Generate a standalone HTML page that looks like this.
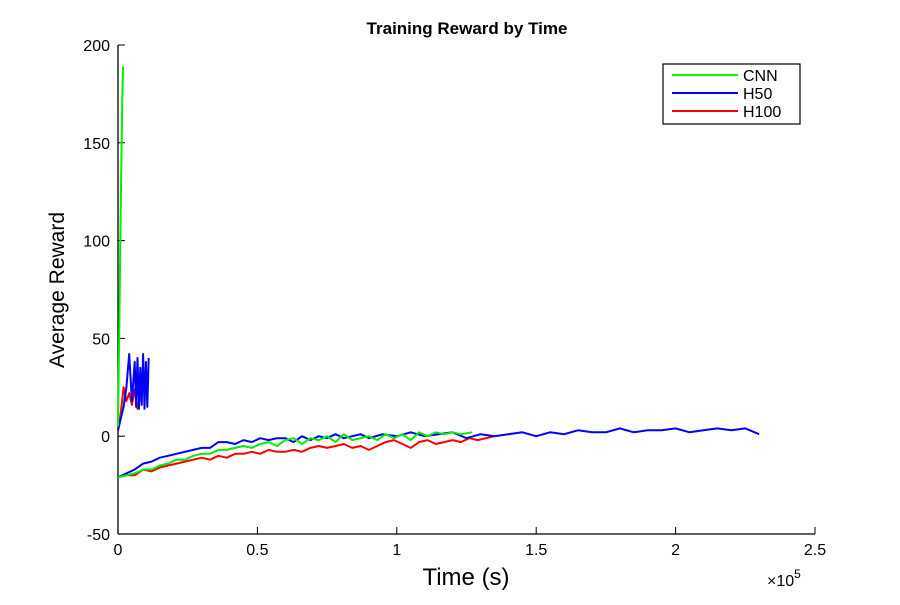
<!DOCTYPE html>
<html><head><meta charset="utf-8"><style>
body{margin:0;background:#fff;font-family:"Liberation Sans",sans-serif}
svg text{font-family:"Liberation Sans",sans-serif;fill:#000}
</style></head><body>
<svg width="900" height="600" id="c">
<rect width="900" height="600" fill="#fff"/>
<text x="467" y="34" font-size="17" font-weight="bold" text-anchor="middle">Training Reward by Time</text>
<text x="64" y="290" font-size="21" text-anchor="middle" transform="rotate(-90 64 290)">Average Reward</text>
<text x="466" y="585" font-size="24" text-anchor="middle">Time (s)</text>
<text x="767" y="586" font-size="16">×10<tspan font-size="12" dy="-8">5</tspan></text>
<g id="axes"></g><g id="series"></g>
<g>
<rect x="663" y="64" width="137" height="60" fill="#fff" stroke="#000" stroke-width="1.2"/>
<line x1="672" y1="75" x2="738" y2="75" stroke="#00ff00" stroke-width="2"/>
<text x="743" y="81" font-size="16">CNN</text>
<line x1="672" y1="93" x2="738" y2="93" stroke="#0000ff" stroke-width="2"/>
<text x="743" y="99" font-size="16">H50</text>
<line x1="672" y1="111" x2="738" y2="111" stroke="#ff0000" stroke-width="2"/>
<text x="743" y="117" font-size="16">H100</text>
</g>
</svg>
<script>
const xTicks=[0,0.5,1,1.5,2,2.5];
const xTickLabels=["0","0.5","1","1.5","2","2.5"];
const yTicks=[-50,0,50,100,150,200];
const yTickLabels=["-50","0","50","100","150","200"];
// null separates disconnected runs
const timesCNN=[0,0.005,0.01,0.015,0.018,null,0,0.03,0.06,0.09,0.12,0.15,0.18,0.21,0.24,0.27,0.3,0.33,0.36,0.39,0.42,0.45,0.48,0.51,0.54,0.57,0.6,0.63,0.66,0.69,0.72,0.75,0.78,0.81,0.84,0.87,0.9,0.93,0.96,0.99,1.02,1.05,1.08,1.11,1.14,1.17,1.2,1.23,1.27];
const valuesCNN=[5,60,120,170,189,null,-21,-20,-19,-17,-17,-15,-14,-12,-12,-10,-9,-9,-7,-7,-6,-5,-6,-4,-3,-5,-2,-1,-4,-1,-2,0,-3,1,-2,-1,0,-2,1,-1,1,-2,2,0,2,1,2,1,2];
const timesH50=[0,0.02,0.03,0.04,0.05,0.06,0.065,0.07,0.075,0.08,0.085,0.09,0.095,0.1,0.105,0.11,null,0,0.03,0.06,0.09,0.12,0.15,0.18,0.21,0.24,0.27,0.3,0.33,0.36,0.39,0.42,0.45,0.48,0.51,0.54,0.57,0.6,0.63,0.66,0.69,0.72,0.75,0.78,0.81,0.84,0.87,0.9,0.95,1.0,1.05,1.1,1.15,1.2,1.25,1.3,1.35,1.4,1.45,1.5,1.55,1.6,1.65,1.7,1.75,1.8,1.85,1.9,1.95,2.0,2.05,2.1,2.15,2.2,2.25,2.3];
const valuesH50=[3,15,25,42,18,38,15,40,14,35,16,42,14,38,15,40,null,-21,-19,-17,-14,-13,-11,-10,-9,-8,-7,-6,-6,-3,-3,-4,-2,-3,-1,-2,-1,-1,-3,0,-2,0,-1,1,-1,0,1,-1,1,0,2,0,1,2,-1,1,0,1,2,0,2,1,3,2,2,4,2,3,3,4,2,3,4,3,4,1];
const timesH100=[0,0.01,0.02,0.03,0.04,0.05,0.06,0.07,0.08,null,0,0.03,0.06,0.09,0.12,0.15,0.18,0.21,0.24,0.27,0.3,0.33,0.36,0.39,0.42,0.45,0.48,0.51,0.54,0.57,0.6,0.63,0.66,0.69,0.72,0.75,0.78,0.81,0.84,0.87,0.9,0.93,0.96,0.99,1.02,1.05,1.08,1.11,1.14,1.17,1.2,1.23,1.26,1.29,1.32,1.35];
const valuesH100=[3,12,25,18,22,16,24,14,20,null,-21,-20,-20,-17,-18,-16,-15,-14,-13,-12,-11,-12,-10,-11,-9,-9,-8,-9,-7,-8,-8,-7,-8,-6,-5,-6,-5,-4,-6,-5,-7,-5,-3,-2,-4,-6,-3,-2,-4,-3,-2,-3,-1,-2,-1,0];
const X0=118,X1=815,Y0=534,Y1=45;
const sx=v=>X0+(v-0)/(2.5-0)*(X1-X0);
const sy=v=>Y0-(v+50)/250*(Y0-Y1);
const NS="http://www.w3.org/2000/svg";
const ax=document.getElementById('axes');
function mk(t,attrs,parent){const e=document.createElementNS(NS,t);for(const k in attrs)e.setAttribute(k,attrs[k]);parent.appendChild(e);return e;}
let a=mk('line',{x1:X0,y1:Y0,x2:X1,y2:Y0,stroke:'#000','stroke-width':1.3},ax);


a=mk('line',{x1:X0,y1:Y0,x2:X0,y2:Y1,stroke:'#000','stroke-width':1.3},ax);


xTicks.forEach((t,i)=>{const x=sx(t);
 const l=mk('line',{x1:x,y1:Y0,x2:x,y2:Y0-7,stroke:'#000'},ax);
 
 
 const tx=mk('text',{x:x,y:Y0+21,'font-size':16,'text-anchor':'middle'},ax);tx.textContent=xTickLabels[i];
 
 });
yTicks.forEach((t,i)=>{const y=sy(t);
 const l=mk('line',{x1:X0,y1:y,x2:X0+7,y2:y,stroke:'#000'},ax);
 
 
 const tx=mk('text',{x:X0-8,y:y+6,'font-size':16,'text-anchor':'end'},ax);tx.textContent=yTickLabels[i];
 
 });
const sg=document.getElementById('series');
function line(ts,vs,col,name){
 let d='',pen=false;
 ts.forEach((t,i)=>{if(t===null||vs[i]===null){pen=false;return;}
  d+=(pen?'L':'M')+sx(t).toFixed(1)+','+sy(vs[i]).toFixed(1);pen=true;});
 const e=mk('path',{d:d,fill:'none',stroke:col,'stroke-width':2,'stroke-linejoin':'round'},sg);
 
 }
line(timesH100,valuesH100,'#ff0000','h100-line');
line(timesH50,valuesH50,'#0000ff','h50-line');
line(timesCNN,valuesCNN,'#00ee00','cnn-line');
</script>
</body></html>
